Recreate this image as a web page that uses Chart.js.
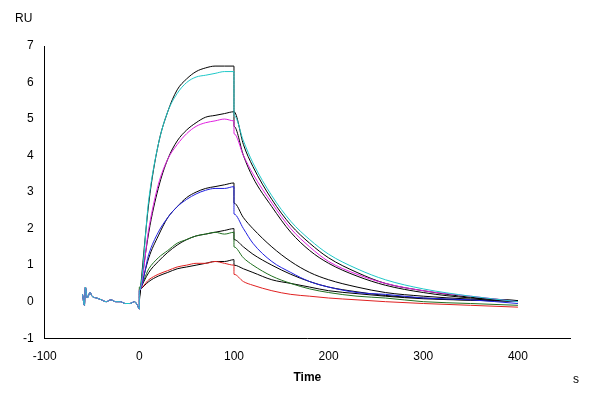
<!DOCTYPE html>
<html><head><script src="https://cdn.jsdelivr.net/npm/chart.js@4"></script>
<style>body{margin:0;background:#fff}#w{width:600px;height:400px}</style></head>
<body><div id="w"><canvas id="c"></canvas></div>
<script>
const baseT=[-60,-58,-57,-55,-52,-50,-45,-40,-35,-30,-25,-20,-15,-10,-5,-2,0];
const baseY=[0.2,-0.1,0.4,0.1,0.25,0.15,0.1,0.05,0.0,0.05,0.0,0.0,-0.05,-0.05,0.0,-0.1,-0.2];
const T=[0,10,20,30,40,50,60,70,80,90,100,100,110,120,140,160,180,200,230,260,300,350,400];
const cyan   =[0.3,2.8,4.3,5.2,5.7,6.0,6.15,6.2,6.25,6.3,6.3,5.1,4.4,3.8,2.9,2.2,1.7,1.3,0.9,0.6,0.35,0.15,0.0];
const fit1   =[0,2.7,4.3,5.2,5.8,6.1,6.3,6.4,6.45,6.45,6.45,5.2,4.3,3.7,2.8,2.1,1.6,1.2,0.8,0.5,0.3,0.12,0.03];
const magenta=[0.3,2.0,3.2,3.9,4.3,4.6,4.8,4.9,4.95,5.0,4.95,4.6,4.0,3.5,2.7,2.0,1.5,1.1,0.75,0.5,0.3,0.15,0.0];
const fit2   =[0.1,1.9,3.1,3.9,4.4,4.7,4.9,5.05,5.1,5.15,5.2,4.8,4.0,3.4,2.6,1.9,1.4,1.05,0.7,0.45,0.25,0.1,0.03];
const blue   =[0.3,1.3,1.9,2.3,2.6,2.8,2.95,3.05,3.1,3.1,3.15,2.4,2.0,1.6,1.1,0.8,0.55,0.4,0.25,0.2,0.1,0.05,-0.05];
const fit3   =[0.2,1.2,1.8,2.3,2.6,2.85,3.0,3.1,3.15,3.2,3.25,2.7,2.3,2.0,1.5,1.1,0.8,0.6,0.4,0.25,0.15,0.07,0.02];
const green  =[0.4,0.9,1.2,1.4,1.6,1.7,1.8,1.85,1.9,1.85,1.9,1.5,1.2,1.0,0.7,0.5,0.35,0.25,0.15,0.1,0.0,-0.05,-0.1];
const fit4   =[0.3,0.8,1.1,1.35,1.55,1.7,1.8,1.85,1.9,1.95,2.0,1.7,1.5,1.3,1.0,0.75,0.55,0.4,0.27,0.17,0.1,0.04,0.01];
const red    =[0.35,0.6,0.75,0.85,0.95,1.0,1.05,1.05,1.1,1.05,1.0,0.75,0.55,0.45,0.3,0.2,0.15,0.1,0.05,0.0,-0.05,-0.1,-0.15];
const fit5   =[0.3,0.55,0.7,0.8,0.9,0.95,1.0,1.05,1.1,1.1,1.15,1.0,0.9,0.8,0.6,0.5,0.4,0.3,0.22,0.15,0.08,0.04,0.01];
const xTicks=[-100,0,100,200,300,400];
function pts(ys,withBase){const p=[];if(withBase)baseT.forEach((t,i)=>p.push({x:t,y:baseY[i]}));T.forEach((t,i)=>p.push({x:t,y:ys[i]}));return p;}
const ds=[];
[[cyan,'#1fc8c8'],[magenta,'#e020e0'],[blue,'#2020e0'],[green,'#207020'],[red,'#e02020']].forEach(([d,c])=>ds.push({data:pts(d,true),borderColor:c,borderWidth:1,pointRadius:0,cubicInterpolationMode:'monotone'}));
[fit1,fit2,fit3,fit4,fit5].forEach(d=>ds.push({data:pts(d,false),borderColor:'#000',borderWidth:1,pointRadius:0,cubicInterpolationMode:'monotone'}));
const txt={id:'txt',afterDraw(ch){const g=ch.ctx;g.save();g.fillStyle='#000';g.font='12px Arial, Liberation Sans';g.fillText('RU',15,22);g.fillText('s',573,383);g.restore();}};
new Chart(document.getElementById('c'),{type:'line',data:{datasets:ds},plugins:[txt],
options:{animation:false,responsive:true,maintainAspectRatio:false,layout:{padding:{left:20,right:30,top:46,bottom:15}},
plugins:{legend:{display:false},tooltip:{enabled:false}},
scales:{x:{type:'linear',min:-100,max:455,afterBuildTicks:a=>{a.ticks=xTicks.map(v=>({value:v}))},grid:{display:false},border:{color:'#000'},ticks:{color:'#000',font:{size:12}},title:{display:true,text:'Time',color:'#000',font:{size:12,weight:'bold'},padding:{top:4,bottom:0}}},
y:{min:-1,max:7,grid:{display:false},border:{color:'#000'},ticks:{stepSize:1,color:'#000',font:{size:12}}}}}});
</script></body></html>
